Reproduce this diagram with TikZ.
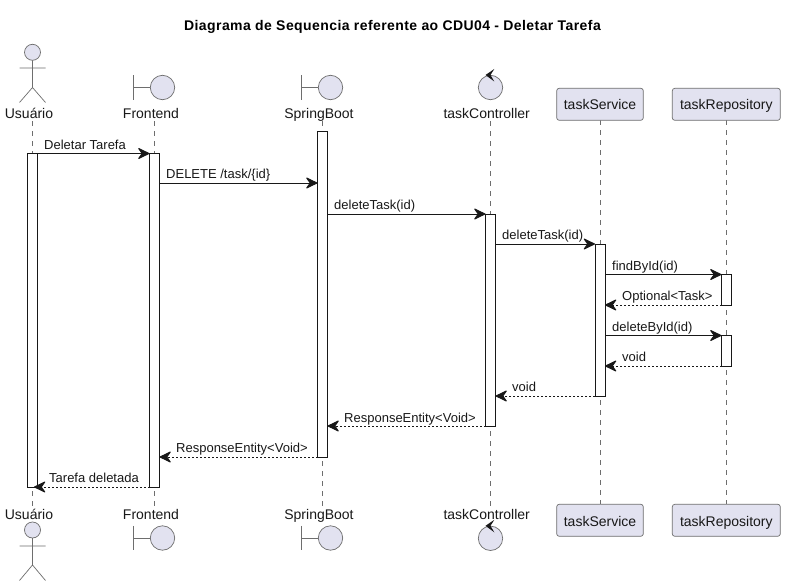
\documentclass[tikz,border=0pt]{standalone}
\usepackage{fontspec}
\setmainfont{Liberation Sans}
\usetikzlibrary{arrows.meta}
\definecolor{partfill}{HTML}{E2E2F0}
\definecolor{ink}{HTML}{181818}
\definecolor{thinink}{HTML}{6E6E6E}
\tikzset{
  x=1pt,y=-1pt,
  actorline/.style={draw=thinink,line width=0.7pt},
  symb/.style={circle,draw=thinink,line width=0.7pt,fill=partfill,inner sep=0pt,outer sep=0pt},
  partname/.style={anchor=base,inner sep=0pt,font=\fontsize{14}{14}\selectfont,text=ink},
  partbox/.style={draw=thinink,line width=0.7pt,fill=partfill,rounded corners=2.5pt,minimum height=32pt,inner sep=0pt,outer sep=0pt,text height=14.4pt,text depth=3pt,font=\fontsize{14}{14}\selectfont,text=ink},
  lifeline/.style={draw=thinink,line width=0.6pt,dash pattern=on 5pt off 5pt},
  activation/.style={draw=ink,line width=1pt,fill=white,minimum width=10pt,inner sep=0pt,outer sep=0pt},
  msg/.style={draw=ink,line width=1pt,-{Stealth[length=13pt,width=12.5pt,inset=4.5pt,round=false]}},
  ret/.style={msg,dash pattern=on 2pt off 2pt},
  mlabel/.style={anchor=base west,inner sep=0pt,font=\fontsize{13}{13}\selectfont,text=ink},
}
\begin{document}
\begin{tikzpicture}
\useasboundingbox[fill=white] (0,0) rectangle (785,586);
\node[anchor=base,inner sep=0pt,font=\bfseries\fontsize{14}{14}\selectfont,text=black] (title) at (392.5,30.5) {\addfontfeature{LetterSpace=3}Diagrama de Sequencia referente ao CDU04 - Deletar Tarefa};

% lifelines
\foreach \n/\x/\t/\b in {lu/32.5/121/508,lf/154.5/121/508,ls/322.5/121/508,lc/490.5/121/508,lv/600/120.3/504.3,lr/726.5/120.3/504.3}{
  \coordinate (\n top) at (\x,\t);
  \coordinate (\n bot) at (\x,\b);
  \draw[lifeline] (\n top) -- (\n bot);
}

% actor, top
\node[symb,minimum size=16pt] (uhead) at (32.5,52.3) {};
\coordinate (uhip) at (32.5,87.5);
\coordinate (uarmL) at (19.5,68);
\coordinate (uarmR) at (45.5,68);
\coordinate (ulegL) at (19.5,102.5);
\coordinate (ulegR) at (45.5,102.5);
\draw[actorline] (uhead) -- (uhip) (uarmL) -- (uarmR) (ulegL) -- (uhip) -- (ulegR);
\node[partname] (uname) at (29,118) {Usuário};

% actor, bottom
\node[symb,minimum size=16pt] (uheadb) at (32.5,530) {};
\coordinate (uhipb) at (32.5,565);
\coordinate (uarmLb) at (19.5,546);
\coordinate (uarmRb) at (45.5,546);
\coordinate (ulegLb) at (19.5,580.5);
\coordinate (ulegRb) at (45.5,580.5);
\draw[actorline] (uheadb) -- (uhipb) (uarmLb) -- (uarmRb) (ulegLb) -- (uhipb) -- (ulegRb);
\node[partname] (unameb) at (29,519) {Usuário};

% boundaries
\foreach \n/\cx/\lab/\lx/\cy/\by/\nm in {
  ftop/162.5/Frontend/151/87.5/118/ftopn,
  fbot/162.5/Frontend/151/538/519/fbotn,
  stop/330.5/SpringBoot/319/87.5/118/stopn,
  sbot/330.5/SpringBoot/319/538/519/sbotn}{
  \node[symb,minimum size=24.4pt] (\n) at (\cx,\cy) {};
  \coordinate (\n bar) at ([xshift=-29pt]\n.center);
  \draw[actorline] (\n bar) -- (\n.west);
  \draw[actorline] ([yshift=12.2pt]\n bar) -- ([yshift=-12.2pt]\n bar);
  \node[partname] (\nm) at (\lx,\by) {\lab};
}

% control
\foreach \n/\cy/\by/\nm in {ctop/87.5/118/ctopn,cbot/538.3/519/cbotn}{
  \node[symb,minimum size=24.4pt] (\n) at (490.5,\cy) {};
  \fill[ink] ([shift={(-5pt,12.5pt)}]\n.center) -- ([shift={(3.8pt,18.5pt)}]\n.center) -- ([shift={(0pt,12.5pt)}]\n.center) -- ([shift={(3.8pt,6pt)}]\n.center) -- cycle;
  \node[partname] (\nm) at (486.7,\by) {taskController};
}

% boxes
\node[partbox,minimum width=86.6pt] (vtop) at (600,104.3) {taskService};
\node[partbox,minimum width=86.6pt] (vbot) at (600,520.3) {taskService};
\node[partbox,minimum width=108pt] (rtop) at (726.3,104.3) {taskRepository};
\node[partbox,minimum width=108pt] (rbot) at (726.3,520.3) {taskRepository};

% activations
\node[activation,minimum height=333.5pt] (au) at (32.5,320.25) {};
\node[activation,minimum height=333.5pt] (af) at (154.5,320.25) {};
\node[activation,minimum height=325.5pt] (as) at (322.5,294.25) {};
\node[activation,minimum height=212pt] (ac) at (490.5,320) {};
\node[activation,minimum height=152pt] (av) at (600,320) {};
\node[activation,minimum height=30.5pt] (ar1) at (726.5,289.75) {};
\node[activation,minimum height=30.5pt] (ar2) at (726.5,350.75) {};

% messages
\coordinate (m1a) at (au.east |- 0,153.5);
\draw[msg] (m1a) -- (af.west |- m1a);
\node[mlabel] (t1) at (44,149) {Deletar Tarefa};
\coordinate (m2a) at (af.east |- 0,183);
\draw[msg] (m2a) -- (as.west |- m2a);
\node[mlabel] (t2) at (166,178.5) {DELETE /task/\{id\}};
\coordinate (m3a) at (as.east |- ac.north);
\draw[msg] (m3a) -- (ac.north west);
\node[mlabel] (t3) at (334,209.5) {deleteTask(id)};
\coordinate (m4a) at (ac.east |- av.north);
\draw[msg] (m4a) -- (av.north west);
\node[mlabel] (t4) at (502,239.5) {deleteTask(id)};
\coordinate (m5a) at (av.east |- ar1.north);
\draw[msg] (m5a) -- (ar1.north west);
\node[mlabel] (t5) at (612,270) {findById(id)};
\coordinate (m6a) at (av.east |- ar1.south);
\draw[ret] (ar1.south west) -- (m6a);
\node[mlabel] (t6) at (622,300.5) {Optional<Task>};
\coordinate (m7a) at (av.east |- ar2.north);
\draw[msg] (m7a) -- (ar2.north west);
\node[mlabel] (t7) at (612,331) {deleteById(id)};
\coordinate (m8a) at (av.east |- ar2.south);
\draw[ret] (ar2.south west) -- (m8a);
\node[mlabel] (t8) at (622,361.5) {void};
\coordinate (m9a) at (ac.east |- av.south);
\draw[ret] (av.south west) -- (m9a);
\node[mlabel] (t9) at (512,391.5) {void};
\coordinate (m10a) at (as.east |- ac.south);
\draw[ret] (ac.south west) -- (m10a);
\node[mlabel] (t10) at (344,422) {ResponseEntity<Void>};
\coordinate (m11a) at (af.east |- as.south);
\draw[ret] (as.south west) -- (m11a);
\node[mlabel] (t11) at (176,452.5) {ResponseEntity<Void>};
\coordinate (m12a) at ([xshift=1.5pt]au.center |- af.south);
\draw[ret] (af.south west) -- (m12a);
\node[mlabel] (t12) at (49,482.5) {Tarefa deletada};
\end{tikzpicture}
\end{document}
